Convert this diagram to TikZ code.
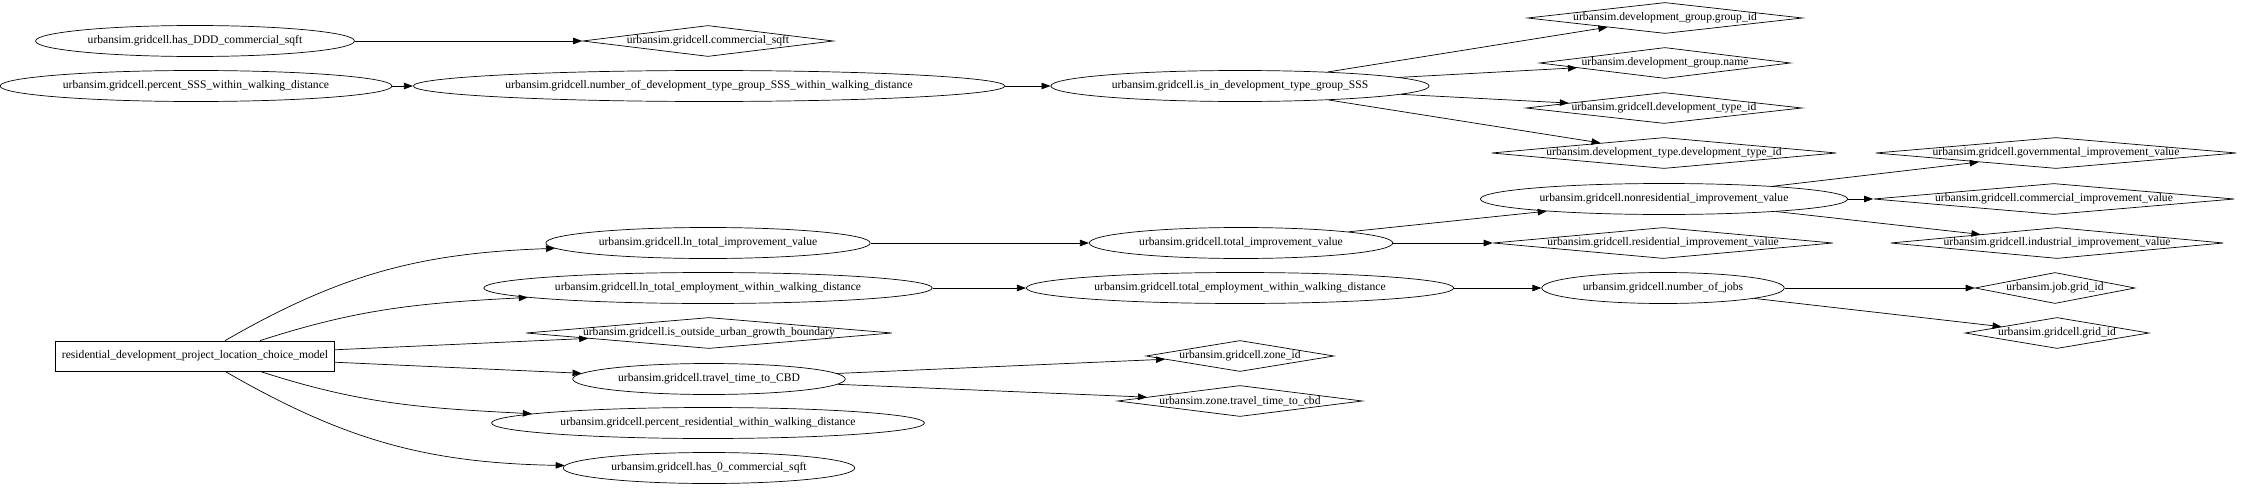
\documentclass[tikz,border=0pt]{standalone}
\usepackage{fontspec}
\setmainfont{Liberation Serif}
\usetikzlibrary{shapes.geometric,arrows.meta}

\begin{document}
\begin{tikzpicture}[
  x=1pt, y=1pt,
  font=\fontsize{11.6}{13}\selectfont,
  ell/.style={draw, line width=0.7pt, ellipse, inner xsep=5.5pt, inner ysep=0pt, minimum height=31pt},
  dia/.style={draw, line width=0.7pt, diamond, inner sep=0pt, minimum height=31pt, minimum width=#1},
  box/.style={draw, line width=0.7pt, rectangle, inner xsep=6.5pt, minimum height=30pt},
  arr/.style={-{Triangle[length=9pt,width=6.5pt]}, line width=0.7pt}
]
\useasboundingbox (0,0) rectangle (2242,-487);

% first column
\node[ell] (hasDDD) at (195,-41) {urbansim.gridcell.has\_DDD\_commercial\_sqft};
\node[ell] (pctSSS) at (196,-86) {urbansim.gridcell.percent\_SSS\_within\_walking\_distance};
\node[box] (model) at (195,-356) {residential\_development\_project\_location\_choice\_model};

% second column
\node[dia=251, label=center:{urbansim.gridcell.commercial\_sqft}] (commsqft) at (708,-41) {};
\node[ell] (numdev) at (709,-86) {urbansim.gridcell.number\_of\_development\_type\_group\_SSS\_within\_walking\_distance};
\node[ell] (lnimpr) at (708,-243) {urbansim.gridcell.ln\_total\_improvement\_value};
\node[ell] (lnemp) at (708,-288) {urbansim.gridcell.ln\_total\_employment\_within\_walking\_distance};
\node[dia=366, label=center:{urbansim.gridcell.is\_outside\_urban\_growth\_boundary}] (outside) at (709,-333) {};
\node[ell] (travel) at (709,-379) {urbansim.gridcell.travel\_time\_to\_CBD};
\node[ell] (pctres) at (708,-423) {urbansim.gridcell.percent\_residential\_within\_walking\_distance};
\node[ell] (has0) at (709,-468) {urbansim.gridcell.has\_0\_commercial\_sqft};

% third column
\node[ell] (isindev) at (1240,-86) {urbansim.gridcell.is\_in\_development\_type\_group\_SSS};
\node[ell] (totimpr) at (1241,-243) {urbansim.gridcell.total\_improvement\_value};
\node[ell] (totemp) at (1240,-288) {urbansim.gridcell.total\_employment\_within\_walking\_distance};
\node[dia=188, label=center:{urbansim.gridcell.zone\_id}] (zoneid) at (1240,-356) {};
\node[dia=245, label=center:{urbansim.zone.travel\_time\_to\_cbd}] (zonetravel) at (1240,-401) {};

% fourth column
\node[dia=275, label=center:{urbansim.development\_group.group\_id}] (groupid) at (1665,-18) {};
\node[dia=251, label=center:{urbansim.development\_group.name}] (grpname) at (1665,-63) {};
\node[dia=276, label=center:{urbansim.gridcell.development\_type\_id}] (devtypeid) at (1664,-108) {};
\node[dia=345, label=center:{urbansim.development\_type.development\_type\_id}] (dtdtid) at (1664,-153) {};
\node[ell] (nonres) at (1664,-199) {urbansim.gridcell.nonresidential\_improvement\_value};
\node[dia=340, label=center:{urbansim.gridcell.residential\_improvement\_value}] (resimpr) at (1663,-243) {};
\node[ell] (numjobs) at (1663,-288) {urbansim.gridcell.number\_of\_jobs};

% fifth column
\node[dia=361, label=center:{urbansim.gridcell.governmental\_improvement\_value}] (govimpr) at (2056,-153) {};
\node[dia=361, label=center:{urbansim.gridcell.commercial\_improvement\_value}] (commimpr) at (2054,-199) {};
\node[dia=333, label=center:{urbansim.gridcell.industrial\_improvement\_value}] (indimpr) at (2057,-243) {};
\node[dia=160, label=center:{urbansim.job.grid\_id}] (jobgrid) at (2055,-288) {};
\node[dia=184, label=center:{urbansim.gridcell.grid\_id}] (gridid) at (2057,-333) {};

% edges
\draw[arr] (hasDDD) -- (commsqft);
\draw[arr] (pctSSS) -- (numdev);
\draw[arr] (numdev) -- (isindev);
\draw[arr] (isindev) -- (groupid);
\draw[arr] (isindev) -- (grpname);
\draw[arr] (isindev) -- (devtypeid);
\draw[arr] (isindev) -- (dtdtid);

\draw[arr] ([xshift=30pt]model.north) to[out=30,in=182] (lnimpr.182);
\draw[arr] ([xshift=65pt]model.north) to[out=18,in=183] (lnemp.183);
\draw[arr] (model) -- (outside);
\draw[arr] (model) -- (travel);
\draw[arr] ([xshift=65pt]model.south) to[out=-18,in=177] (pctres.177);
\draw[arr] ([xshift=30pt]model.south) to[out=-30,in=179] (has0.179);

\draw[arr] (lnimpr) -- (totimpr);
\draw[arr] (totimpr) -- (nonres);
\draw[arr] (totimpr) -- (resimpr);
\draw[arr] (nonres) -- (govimpr);
\draw[arr] (nonres) -- (commimpr);
\draw[arr] (nonres) -- (indimpr);

\draw[arr] (lnemp) -- (totemp);
\draw[arr] (totemp) -- (numjobs);
\draw[arr] (numjobs) -- (jobgrid);
\draw[arr] (numjobs) -- (gridid);

\draw[arr] (travel) -- (zoneid);
\draw[arr] (travel) -- (zonetravel);
\end{tikzpicture}
\end{document}
